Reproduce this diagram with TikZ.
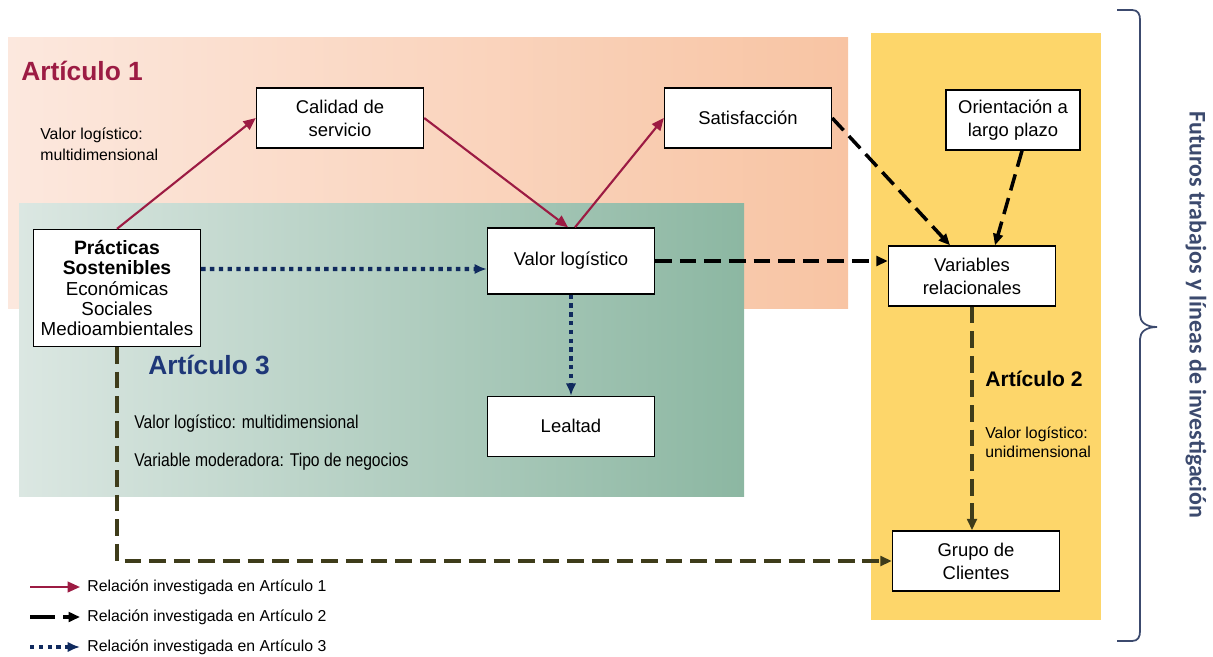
\documentclass[tikz,border=0pt]{standalone}
\usepackage{fontspec}
\setmainfont{Liberation Sans}
\newfontfamily\narrowfont[FakeStretch=0.85]{Liberation Sans}
\newfontfamily\sidefont{Carlito}
\usetikzlibrary{
  arrows.meta,
  positioning
}
\definecolor{crimson}{RGB}{156,27,67}
\definecolor{navyblue}{RGB}{16,42,94}
\definecolor{darkolive}{RGB}{62,60,26}
\definecolor{peachlight}{RGB}{252,232,222}
\definecolor{peachdark}{RGB}{248,196,163}
\definecolor{sagelight}{RGB}{219,231,226}
\definecolor{sagedark}{RGB}{140,183,162}
\definecolor{sun}{RGB}{253,214,106}
\definecolor{slate}{RGB}{60,74,110}
\definecolor{artblue}{RGB}{30,55,120}
\newcommand{\negrita}[1]{{\bfseries\fontsize{11}{13}\selectfont #1}}

\begin{document}
\begin{tikzpicture}[x=0.02cm, y=-0.02cm,
  caja/.style={draw=black, line width=0.8pt, fill=white, minimum width=3.34cm, minimum height=1.2cm, align=center, font=\fontsize{10.5}{13}\selectfont},
  rel1/.style={-{Triangle[length=7pt,width=6pt]}, line width=1.2pt, crimson},
  rel2/.style={-{Triangle[length=6.5pt,width=5.5pt]}, line width=2pt, black, dash pattern=on 9.5pt off 4.5pt},
  rel2b/.style={rel2, darkolive},
  rel3/.style={-{Latex[length=7pt,width=6pt]}, line width=2.3pt, navyblue, dash pattern=on 2.5pt off 2.5pt},
  nota/.style={align=left, anchor=west, inner sep=0pt, font=\fontsize{9}{12}\selectfont},
  titulo/.style={anchor=west, inner sep=0pt, font=\bfseries\fontsize{15}{18}\selectfont},
  leyenda/.style={anchor=west, inner sep=4pt, font=\fontsize{9}{11}\selectfont}
]
\useasboundingbox (0,0) rectangle (1213,656);

% fondos de cada articulo
\fill[left color=peachlight, right color=peachdark] (8,37) rectangle (848,308);
\fill[left color=sagelight, right color=sagedark] (19,203) rectangle (744,496);
\fill[sun] (871,33) rectangle (1101,620);

% cajas
\node[caja] (cal) at (340,118) {Calidad de\\servicio};
\node[caja] (sat) at (748,118) {Satisfacción};
\node[caja, minimum width=2.68cm] (ori) at (1013,120) {Orientación a\\largo plazo};
\node[caja, minimum height=2.34cm, font=\fontsize{10.7}{11.6}\selectfont] (pra) at (117,288)
  {\negrita{Prácticas}\\\negrita{Sostenibles}\\Económicas\\Sociales\\Medioambientales};
\node[caja, minimum height=1.32cm] (val) at (571,261) {Valor logístico};
\node[caja, below=2.02cm of val] (lea) {Lealtad};
\node[caja] (var) at (972,276) {Variables\\relacionales};
\node[caja] (gru) at (976,561) {Grupo de\\Clientes};

% textos
\node[titulo, text=crimson] (t1) at (21,71) {Artículo 1};
\node[nota] (n1) at (40,144) {Valor logístico:\\multidimensional};
\node[titulo, text=artblue] (t3) at (148,365) {Artículo 3};
\node[nota, font=\narrowfont\fontsize{10.5}{12}\selectfont] (n3a) at (134,424) {Valor logístico: multidimensional};
\node[nota, font=\narrowfont\fontsize{10.5}{12}\selectfont] (n3b) at (134,462) {Variable moderadora: Tipo de negocios};
\node[titulo, font=\bfseries\fontsize{12}{14}\selectfont] (t2) at (985,379) {Artículo 2};
\node[nota, font=\fontsize{9}{11}\selectfont] (n2) at (985,442) {Valor logístico:\\unidimensional};

% llave y lineas futuras
\draw[slate, line width=1pt] (1117,10) -- (1132,10) .. controls (1138,10) and (1140,14) .. (1140,20)
  -- (1140,315) .. controls (1140,322) and (1146,327) .. (1157,327)
  .. controls (1146,327) and (1140,332) .. (1140,339)
  -- (1140,631) .. controls (1140,637) and (1138,641) .. (1132,641) -- (1117,641);
\node[rotate=-90, font=\sidefont\bfseries\fontsize{13.6}{15}\selectfont, text=slate] (fut) at (1196,315) {Futuros trabajos y líneas de investigación};

% relaciones
\draw[rel1] (pra.north) -- (cal.west);
\draw[rel1] (cal.east) -- ([xshift=-0.06cm]val.north);
\draw[rel1] ([xshift=0.08cm]val.north) -- (sat.west);

\draw[rel2] (sat.east) -- ([xshift=-0.44cm]var.north);
\draw[rel2] ([xshift=0.18cm]ori.south) -- ([xshift=0.46cm]var.north);
\draw[rel2] (val.east) -- (val.east -| var.west);
\draw[rel2b] (var.south) -- (var.south |- gru.north);
\draw[rel2b] (pra.south) |- (gru.west);

\draw[rel3] ([yshift=0.38cm]pra.east) -- ([yshift=-0.16cm]val.west);
\draw[rel3] (val.south) -- (lea.north);

% leyenda
\coordinate (k1) at (30,587);
\coordinate (k2) at (30,617);
\coordinate (k3) at (30,647);
\node[leyenda] (lg1) at (80,587) {Relación investigada en Artículo 1};
\node[leyenda] (lg2) at (80,617) {Relación investigada en Artículo 2};
\node[leyenda] (lg3) at (80,647) {Relación investigada en Artículo 3};
\draw[rel1] (k1) -- (lg1.west);
\draw[rel2, dash pattern=on 14pt off 5pt] (k2) -- (lg2.west);
\draw[rel3] (k3) -- (lg3.west);
\end{tikzpicture}
\end{document}
